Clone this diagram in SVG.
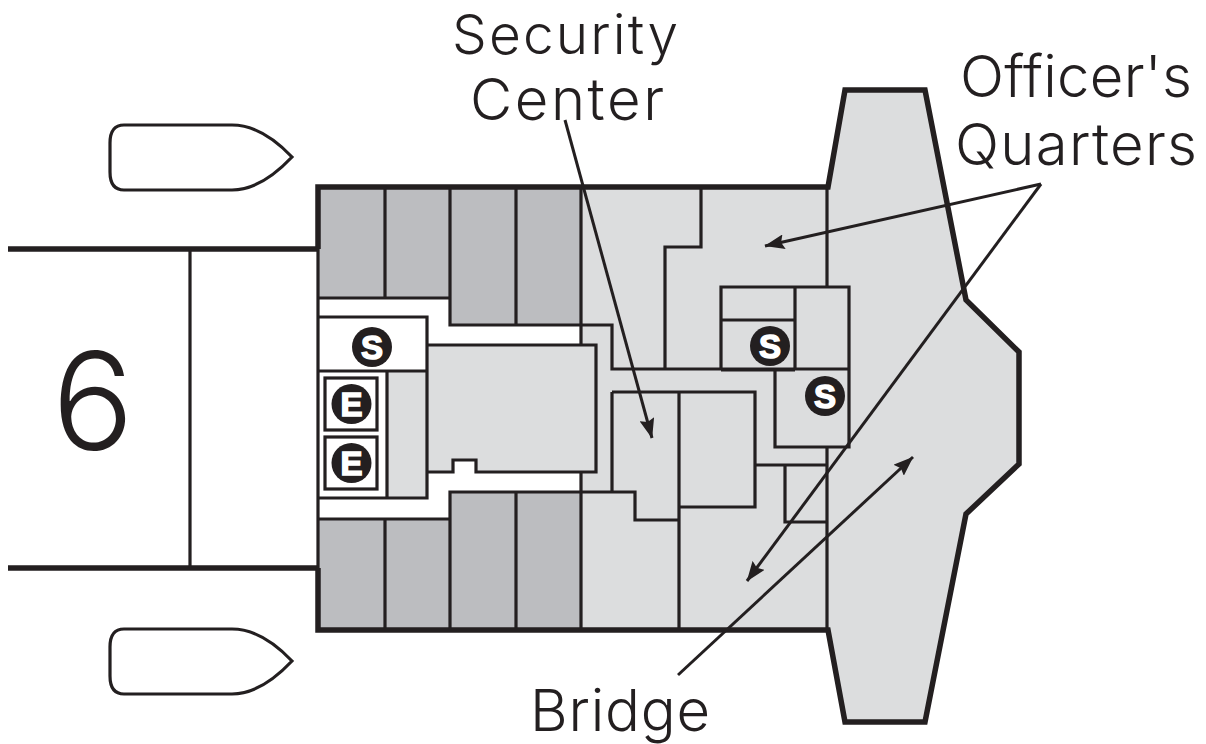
<svg xmlns="http://www.w3.org/2000/svg" width="1206" height="744" viewBox="0 0 1206 744">
<style>
.ln{fill:none;stroke:#231f20;stroke-width:3.2}
.th{fill:none;stroke:#231f20;stroke-width:5.500}
.lbl{font-family:"Inter","Liberation Sans",Arial,sans-serif;font-weight:300;font-size:58px;fill:#231f20;text-anchor:start}
.bd{font-family:"Liberation Sans",Arial,sans-serif;font-size:33px;font-weight:bold;fill:#fff;stroke:#fff;stroke-width:1.5;text-anchor:middle}
.dk{fill:#231f20}
.arr{stroke:#231f20;stroke-width:3;fill:none;marker-end:url(#ah)}
</style>
<defs>
<marker id="ah" markerUnits="userSpaceOnUse" markerWidth="20" markerHeight="15" refX="19.500" refY="7.500" orient="auto" viewBox="0 0 20 15"><path d="M0 0L20 7.500L0 15L3 7.500Z" fill="#231f20"/></marker>
</defs>
<rect width="1206" height="744" fill="#fff"/>
<g id="hull">
<path d="M581 187H828L845 90H925L966 300L1019 352V464L966 514L925 722H845L828 630H581Z" fill="#dcddde"/>
<rect x="318" y="187" width="132" height="111" fill="#bcbdc0"/>
<rect x="450" y="187" width="131" height="138" fill="#bcbdc0"/>
<rect x="318" y="519" width="132" height="111" fill="#bcbdc0"/>
<rect x="450" y="492" width="131" height="138" fill="#bcbdc0"/>
<rect x="427" y="345" width="169" height="127" fill="#dcddde"/>
<rect x="387" y="371" width="40" height="127" fill="#dcddde"/>
<path d="M581 325H612V369H581ZM581 472H612V492H581Z" fill="#dcddde"/>
<rect x="581" y="325" width="15" height="167" fill="#dcddde"/>
<path d="M453 472V460H476V472Z" fill="#fff"/>
</g>
<g id="walls">
<path class="th" d="M8 249H318M8 568H318"/>
<path class="ln" d="M190 249V568M318 249V568"/>
<path class="ln" d="M318 298H450V325H581M385 187V298M516 187V325M450 187V325"/>
<path class="ln" d="M318 519H450V492H581M385 519V630M516 492V630M450 492V630"/>
<path class="ln" d="M318 317H427V498H318M318 371H427M387 371V498"/>
<path class="ln" d="M427 345H596V472H476V460H453V472H427"/>
<path class="ln" d="M581 187V345M581 472V630"/>
<path class="ln" d="M581 325H612V369H850M665 369V247H701V187M827 187V286"/>
<path class="ln" d="M721 369V287H849V447H775V369M795 287V370M721 320H795M721 370H795"/>
<path class="ln" d="M612 392H755V507H679M679 392V630M612 392V492M581 492H635V520H679"/>
<path class="ln" d="M755 465H828M785 465V522H828M827 447V630"/>
<path class="th" d="M318 249V187H828L845 90H925L966 300L1019 352V464L966 514L925 722H845L828 630H318V568"/>
</g>
<g id="boat-top"><path class="ln" d="M110 143Q110 125 124 125H232C255 125 275 139 292 157C275 175 255 190 232 190H124Q110 190 110 172Z"/></g>
<g id="boat-bottom"><path class="ln" d="M110 647Q110 629 124 629H232C255 629 275 643 292 661C275 679 255 694 232 694H124Q110 694 110 676Z"/></g>
<g id="stairs-1"><circle class="dk" cx="372" cy="347" r="20"/><text class="bd" x="372" y="359">S</text></g>
<g id="stairs-2"><circle class="dk" cx="770" cy="346" r="20"/><text class="bd" x="770" y="358">S</text></g>
<g id="stairs-3"><circle class="dk" cx="825" cy="396" r="20"/><text class="bd" x="825" y="408">S</text></g>
<g id="elevator-1"><rect class="ln" x="325" y="378" width="52" height="52"/><circle class="dk" cx="351.500" cy="404" r="20"/><text class="bd" x="351.500" y="415.500">E</text></g>
<g id="elevator-2"><rect class="ln" x="325" y="437" width="52" height="52"/><circle class="dk" cx="351.500" cy="463" r="20"/><text class="bd" x="351.500" y="474.500">E</text></g>
<g id="connectors">
<path class="arr" d="M565 120L652 438"/>
<path class="arr" d="M1041 184L765 246"/>
<path class="arr" d="M1041 184L747 581"/>
<path class="arr" d="M678 675L913 457"/>
</g>
<g id="labels">
<text class="lbl" x="452" y="53.500" textLength="226" style="font-size:55px">Security</text>
<text class="lbl" x="470" y="120" textLength="194">Center</text>
<text class="lbl" x="960" y="97" textLength="232">Officer's</text>
<text class="lbl" x="955" y="165" textLength="242">Quarters</text>
<text class="lbl" x="530" y="731" textLength="180">Bridge</text>
<text class="lbl" x="52" y="450" style="font-size:136px">6</text>
</g>
</svg>
